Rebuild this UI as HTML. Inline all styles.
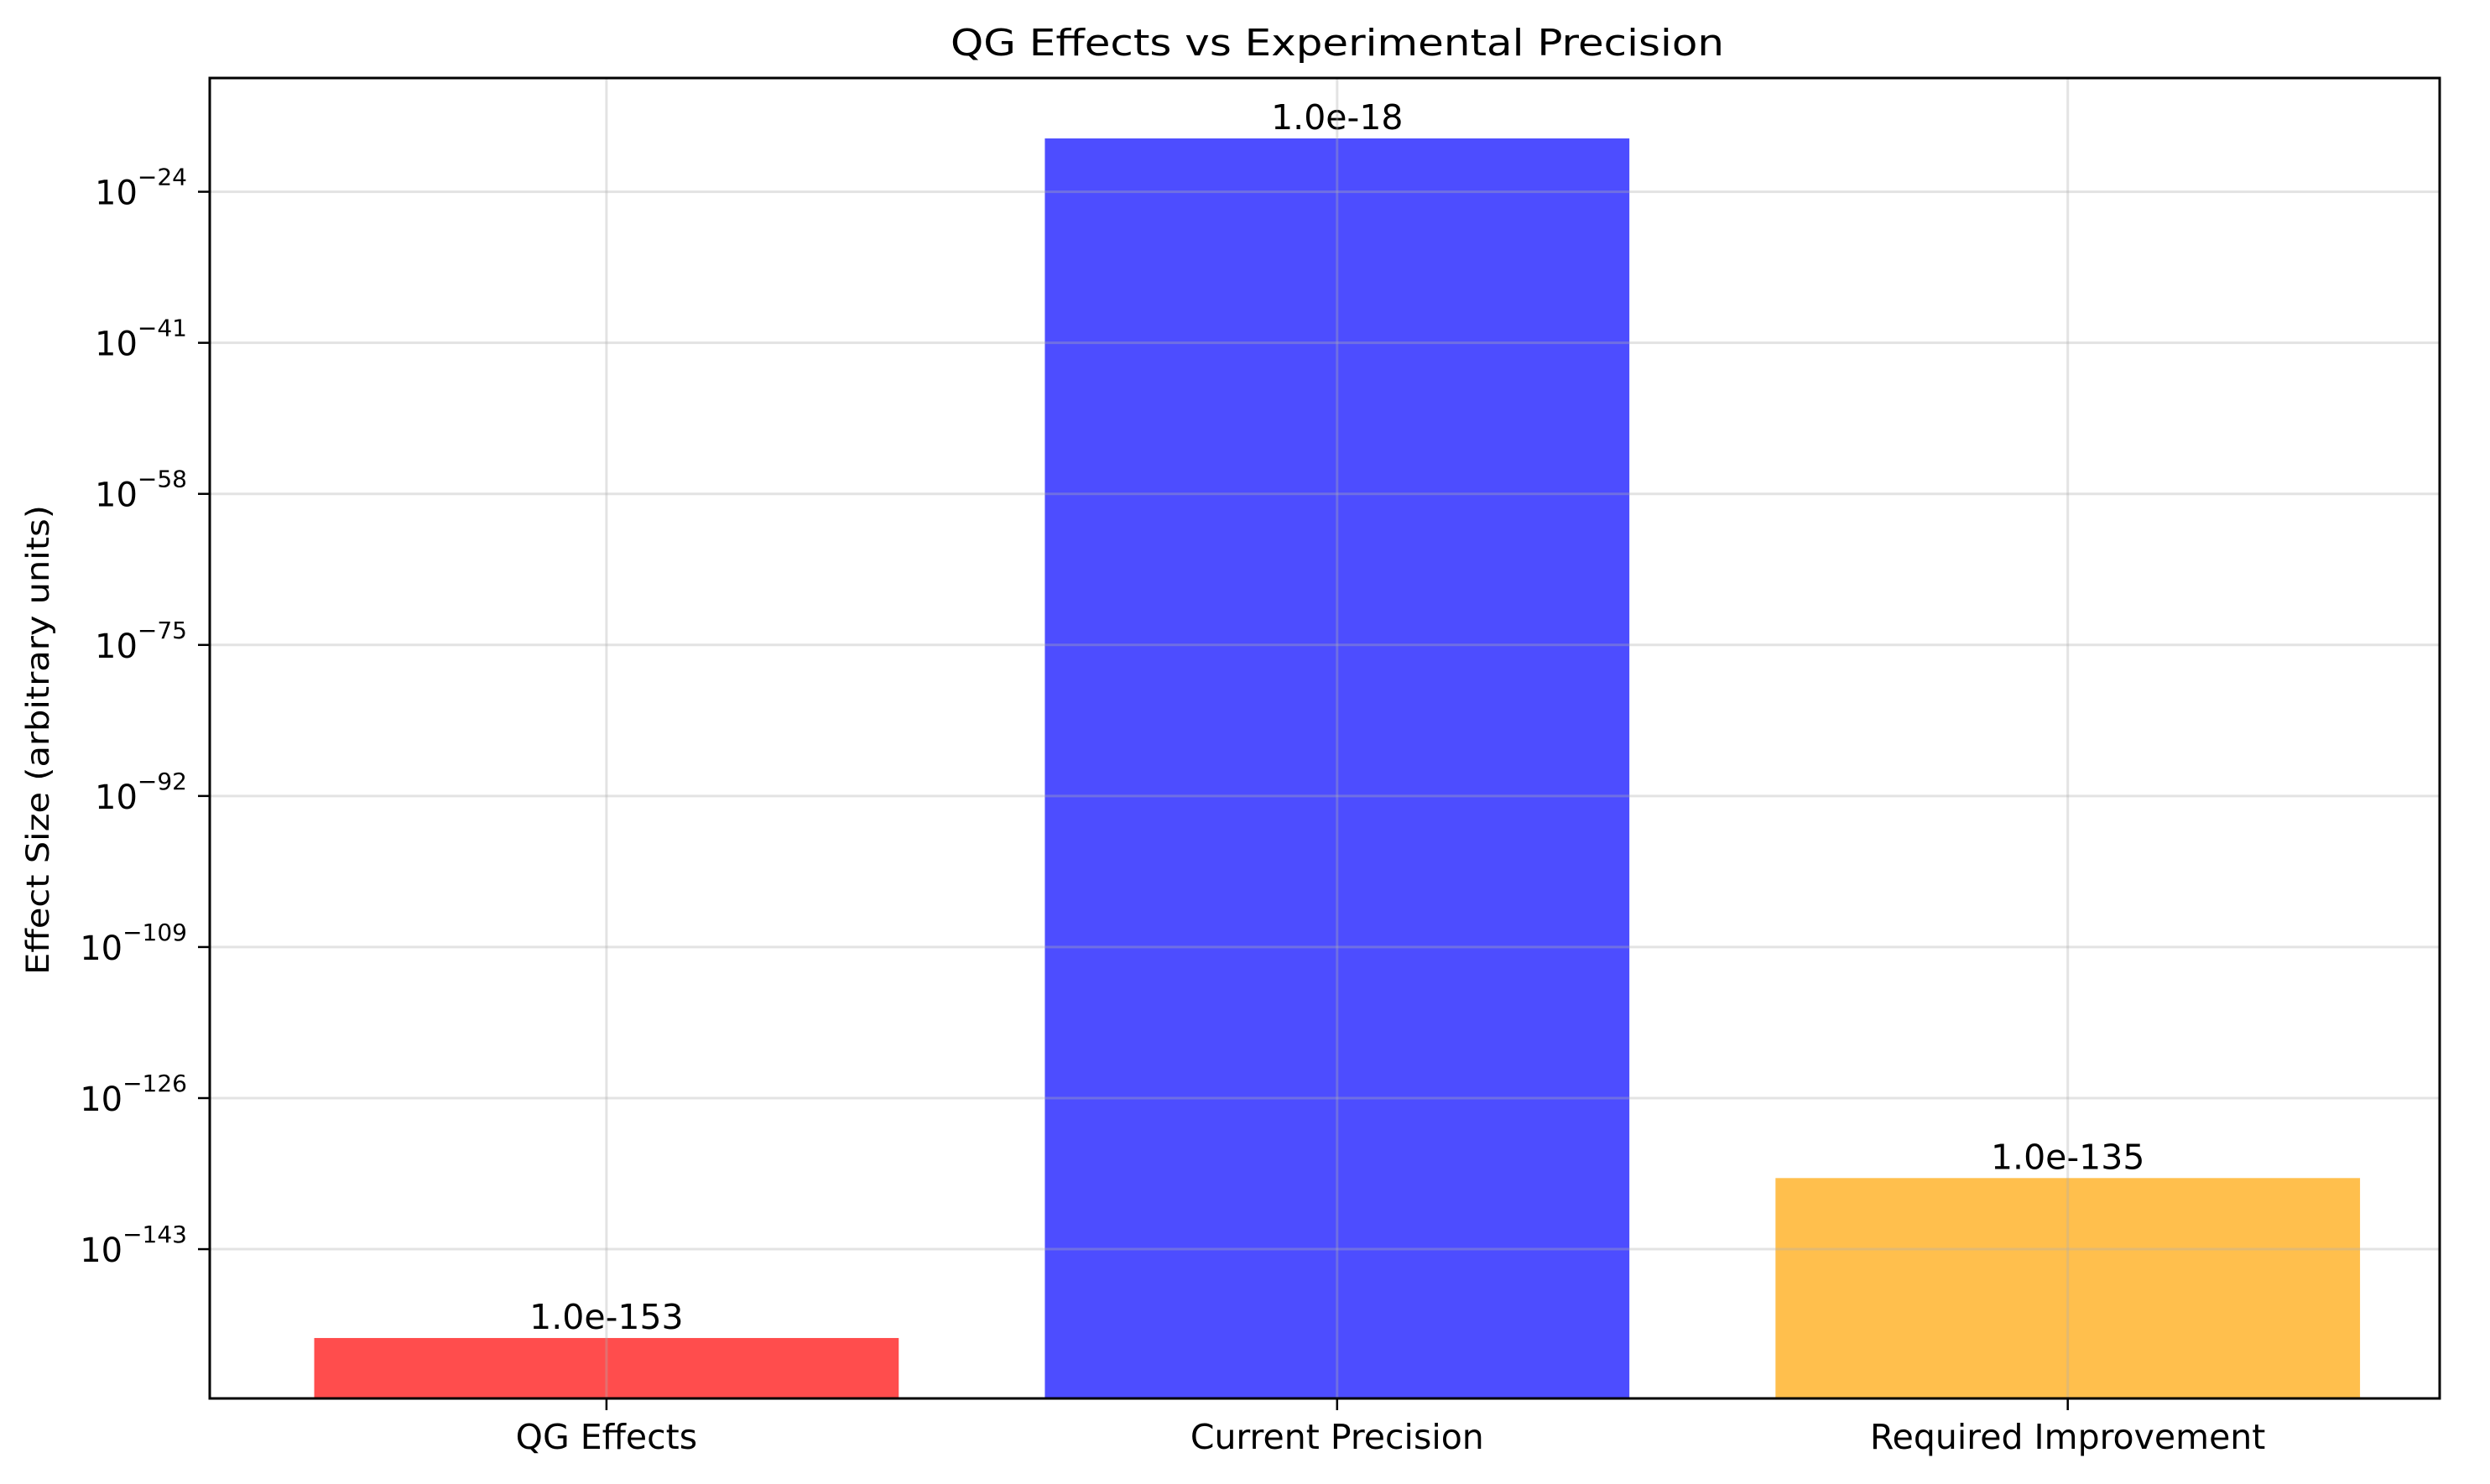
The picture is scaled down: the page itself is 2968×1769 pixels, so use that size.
<!DOCTYPE html>
<html><head><meta charset="utf-8"><style>html,body{margin:0;padding:0;background:#fff}svg{display:block}text{font-family:"DejaVu Sans","Liberation Sans",sans-serif;fill:#000}</style></head>
<body>
<svg id="chart" width="2968" height="1769" viewBox="0 0 2968 1769" xmlns="http://www.w3.org/2000/svg">
<rect width="2968" height="1769" fill="#fff"/>
<text x="1594" y="66" font-size="44" text-anchor="middle" textLength="922" lengthAdjust="spacingAndGlyphs">QG Effects vs Experimental Precision</text>
<text transform="translate(58,882) rotate(-90)" font-size="37" text-anchor="middle" textLength="560" lengthAdjust="spacingAndGlyphs">Effect Size (arbitrary units)</text>
<g id="bars"></g>
<g id="gridtop"></g>
<g id="axes"></g>
</svg>
<script>
const categories = ["QG Effects", "Current Precision", "Required Improvement"];
const exponents = [-153, -18, -135];
const valueLabels = ["1.0e-153", "1.0e-18", "1.0e-135"];
const colors = ["#ff4d4d", "#4d4dff", "#ffbf4d"];
const yTickExps = [-143, -126, -109, -92, -75, -58, -41, -24];

const L = 250, R = 2908, T = 93, B = 1667;
const yMin = -159.8, yMax = -11.2, xMin = -0.543, xMax = 2.509;
const NS = "http://www.w3.org/2000/svg";
function y(e){ return B - (e - yMin) / (yMax - yMin) * (B - T); }
function x(i){ return L + (i - xMin) / (xMax - xMin) * (R - L); }
function mk(tag, attrs, parent){ const el = document.createElementNS(NS, tag); for (const k in attrs) el.setAttribute(k, attrs[k]); parent.appendChild(el); return el; }
const bars = document.getElementById('bars');
const grid = document.getElementById('gridtop');
const axes = document.getElementById('axes');

categories.forEach((c, i) => {
  const bw = 0.8 * (x(1) - x(0));
  const top = y(exponents[i]);
  const r = mk('rect', {x: x(i) - bw/2, y: top, width: bw, height: B - top, fill: colors[i]}, bars);
  
  
  const t = mk('text', {x: x(i), y: top - 11, 'font-size': 41, 'text-anchor': 'middle'}, bars);
  t.textContent = valueLabels[i];
  
  
});
yTickExps.forEach(e => {
  const g = mk('line', {x1: L, x2: R, y1: y(e), y2: y(e), stroke: '#b0b0b0', 'stroke-opacity': 0.35, 'stroke-width': 3}, grid);
  
  
  const tk = mk('line', {x1: L - 14, x2: L, y1: y(e), y2: y(e), stroke: '#000', 'stroke-width': 2.5}, axes);
  
  
  const t = mk('text', {x: 223, y: y(e) + 15, 'font-size': 40, 'text-anchor': 'end'}, axes);
  
  
  const b = mk('tspan', {}, t);
  b.textContent = '10';
  const s = mk('tspan', {dy: -23, 'font-size': 28}, t);
  s.textContent = '\u2212' + (-e);
});
categories.forEach((c, i) => {
  const g = mk('line', {x1: x(i), x2: x(i), y1: T, y2: B, stroke: '#b0b0b0', 'stroke-opacity': 0.35, 'stroke-width': 3}, grid);
  
  
  const tk = mk('line', {x1: x(i), x2: x(i), y1: B, y2: B + 14, stroke: '#000', 'stroke-width': 2.5}, axes);
  
  
  const t = mk('text', {x: x(i), y: 1727, 'font-size': 41, 'text-anchor': 'middle'}, axes);
  t.textContent = c;
  
  
});
const frame = mk('rect', {x: L, y: T, width: R - L, height: B - T, fill: 'none', stroke: '#000', 'stroke-width': 3}, axes);


</script>
</body></html>
